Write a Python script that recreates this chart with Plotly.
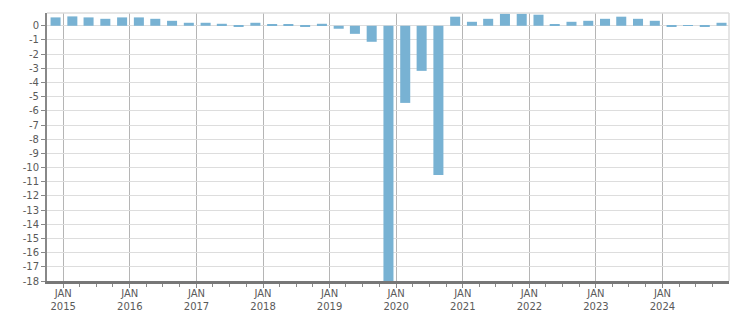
import plotly.graph_objects as go

# Quarterly bar positions (mid-quarter dates) and values
dates = [
    "2014-11-20",
    "2015-02-20", "2015-05-20", "2015-08-20", "2015-11-20",
    "2016-02-20", "2016-05-20", "2016-08-20", "2016-11-20",
    "2017-02-20", "2017-05-20", "2017-08-20", "2017-11-20",
    "2018-02-20", "2018-05-20", "2018-08-20", "2018-11-20",
    "2019-02-20", "2019-05-20", "2019-08-20", "2019-11-20",
    "2020-02-20", "2020-05-20", "2020-08-20", "2020-11-20",
    "2021-02-20", "2021-05-20", "2021-08-20", "2021-11-20",
    "2022-02-20", "2022-05-20", "2022-08-20", "2022-11-20",
    "2023-02-20", "2023-05-20", "2023-08-20", "2023-11-20",
    "2024-02-20", "2024-05-20", "2024-08-20", "2024-11-20",
]
values = [
    0.59,
    0.66, 0.59, 0.49, 0.59,
    0.59, 0.49, 0.35, 0.21,
    0.21, 0.14, -0.07, 0.21,
    0.07, 0.07, -0.05, 0.14,
    -0.21, -0.57, -1.13, -19.5,
    -5.44, -3.18, -10.53, 0.64,
    0.28, 0.49, 0.85, 0.85,
    0.78, 0.07, 0.28, 0.35,
    0.49, 0.64, 0.49, 0.35,
    -0.05, 0.05, -0.04, 0.21,
]
year_ticks = ["2015-01-01", "2016-01-01", "2017-01-01", "2018-01-01", "2019-01-01",
              "2020-01-01", "2021-01-01", "2022-01-01", "2023-01-01", "2024-01-01"]
year_labels = ["JAN<br>2015", "JAN<br>2016", "JAN<br>2017", "JAN<br>2018", "JAN<br>2019",
               "JAN<br>2020", "JAN<br>2021", "JAN<br>2022", "JAN<br>2023", "JAN<br>2024"]
y_ticks = list(range(-18, 1))

DAY_MS = 86400000

fig = go.Figure(
    go.Bar(
        x=dates,
        y=values,
        width=55 * DAY_MS,
        marker=dict(color="#78b2d3", line=dict(width=0)),
    )
)

fig.update_layout(
    width=751,
    height=313,
    margin=dict(l=47, r=22, t=13, b=32),
    plot_bgcolor="white",
    paper_bgcolor="white",
    showlegend=False,
    font=dict(family="DejaVu Sans", size=10, color="#5a5a5a"),
    shapes=[
        dict(type="line", xref="paper", yref="paper", x0=0, x1=1, y0=1, y1=1,
             line=dict(color="#dddddd", width=1.5)),
        dict(type="line", xref="paper", yref="paper", x0=1, x1=1, y0=0, y1=1,
             line=dict(color="#dddddd", width=1.5)),
    ],
)

fig.update_xaxes(
    type="date",
    automargin=False,
    range=["2014-10-04", "2024-12-31"],
    tickmode="array",
    tickvals=year_ticks,
    ticktext=year_labels,
    showgrid=True,
    gridcolor="#b5b5b5",
    gridwidth=1,
    showline=True,
    linecolor="#777777",
    linewidth=3,
    ticks="outside",
    ticklen=4,
    tickcolor="#888888",
    tickwidth=1,
    ticklabelstandoff=-3,
    minor=dict(dtick="M3", tick0="2015-01-01", ticks="outside", ticklen=3,
               tickcolor="#888888", showgrid=False),
    zeroline=False,
)

fig.update_yaxes(
    automargin=False,
    range=[-18, 0.9],
    tickmode="array",
    tickvals=y_ticks,
    ticktext=[str(v) for v in y_ticks],
    showgrid=True,
    gridcolor="#dddddd",
    gridwidth=1,
    showline=True,
    linecolor="#888888",
    linewidth=2,
    ticks="outside",
    ticklen=4,
    tickcolor="#888888",
    zeroline=False,
)

fig.write_html("out.html")
